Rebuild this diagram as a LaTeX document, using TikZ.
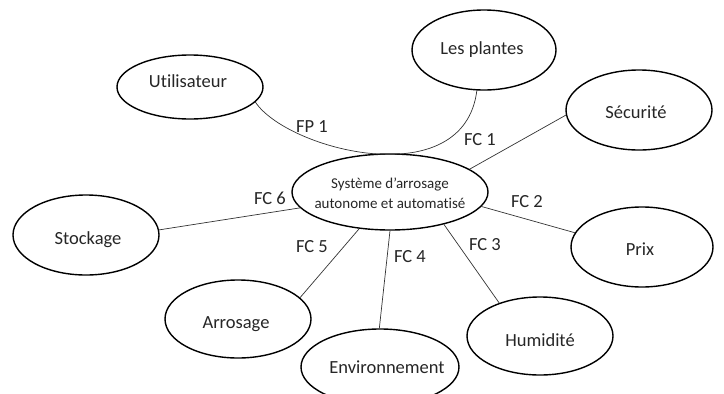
\documentclass[tikz,border=0pt]{standalone}
\usepackage{fontspec}
\setmainfont{Carlito}[Ligatures={NoCommon,TeX}]
\usetikzlibrary{shapes.geometric}
\tikzset{
  bub/.style={draw, ellipse, line width=1.4pt, inner sep=0pt},
  conn/.style={line width=0.7pt, draw=black!80},
  lab/.style={font=\fontsize{18.5}{20}\selectfont, inner sep=0pt, text=black!85}
}
\begin{document}
\begin{tikzpicture}[x=1pt,y=-1pt]
\useasboundingbox (0,0) rectangle (724,394);
\node[bub, minimum width=146pt, minimum height=64pt] (u) at (190,87) {};
\node[lab] (tu) at (188,81) {Utilisateur};
\node[bub, minimum width=144pt, minimum height=80pt] (p) at (484,50) {};
\node[lab] (tp) at (482,50) {Les plantes};
\node[bub, minimum width=196pt, minimum height=76pt] (s) at (390,192) {};
\node[font=\fontsize{15}{20}\selectfont, align=center, inner sep=0pt, text=black!85] (ts) at (390,193) {Système d’arrosage\\autonome et automatisé};
\node[bub, minimum width=146pt, minimum height=80pt] (sec) at (639,110) {};
\node[lab] (tsec) at (636,112) {Sécurité};
\node[bub, minimum width=142pt, minimum height=80pt] (prix) at (642,247) {};
\node[lab] (tprix) at (640,249) {Prix};
\node[bub, minimum width=146pt, minimum height=78pt] (hum) at (540,336) {};
\node[lab] (thum) at (540,340) {Humidité};
\node[bub, minimum width=158pt, minimum height=76pt] (env) at (380,367) {};
\node[lab] (tenv) at (387,367) {Environnement};
\node[bub, minimum width=146pt, minimum height=78pt] (arr) at (238,319) {};
\node[lab] (tarr) at (236,324) {Arrosage};
\node[bub, minimum width=146pt, minimum height=80pt] (sto) at (86,235) {};
\node[lab] (tsto) at (88,240) {Stockage};

\draw[conn] (u.-13) .. controls +(32,48) and +(-13,105) .. (p.-100);
\draw[conn] (s.16) -- (sec.184.6);
\draw[conn] (s.-9) -- (prix.168.5);
\draw[conn] (s.-31.5) -- (hum.141);
\draw[conn] (s.-90) -- (env.91.5);
\draw[conn] (s.-130) -- (arr.19);
\draw[conn] (s.190) -- (sto.4.7);

\node[lab] (l0) at (312,127) {FP 1};
\node[lab] (l1) at (480,140) {FC 1};
\node[lab] (l2) at (527,202) {FC 2};
\node[lab] (l3) at (485,245) {FC 3};
\node[lab] (l4) at (410,257) {FC 4};
\node[lab] (l5) at (312,247) {FC 5};
\node[lab] (l6) at (270,198) {FC 6};
\end{tikzpicture}
\end{document}
